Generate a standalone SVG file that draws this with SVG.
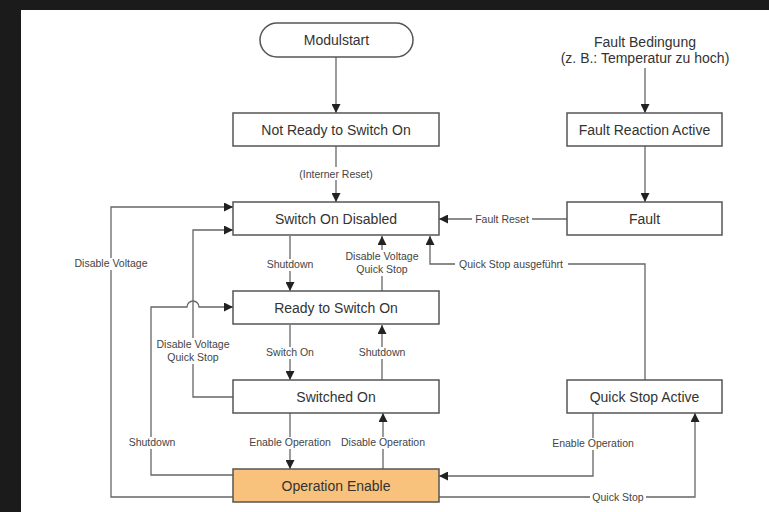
<svg xmlns="http://www.w3.org/2000/svg" width="769" height="512" viewBox="0 0 769 512">
<style>
.node{fill:#fff;stroke:#555;stroke-width:1.5}
.nt{font-family:"Liberation Sans",Arial,sans-serif;font-size:14px;fill:#333;text-anchor:middle}
.lbl{font-family:"Liberation Sans",Arial,sans-serif;font-size:10.5px;fill:#444;text-anchor:middle}
.bg{fill:#fff}
.c{fill:none;stroke:#666;stroke-width:1.3}
</style>
<defs>
<marker id="ar" viewBox="0 0 10 10" refX="10" refY="5" markerWidth="9" markerHeight="9" markerUnits="userSpaceOnUse" orient="auto">
<path d="M0,0 L10,5 L0,10 z" fill="#222"/>
</marker>
</defs>
<rect x="0" y="0" width="769" height="512" fill="#1b1b1b"/>
<rect x="21" y="10" width="748" height="502" fill="#fff"/>

<g id="connectors">
<path class="c" d="M336,57 V113" marker-end="url(#ar)"/>
<path class="c" d="M336,146 V202" marker-end="url(#ar)"/>
<path class="c" d="M645,68 V113" marker-end="url(#ar)"/>
<path class="c" d="M645,146 V202" marker-end="url(#ar)"/>
<path class="c" d="M567,219 H439" marker-end="url(#ar)"/>
<path class="c" d="M645,380 V264 H430 V236" marker-end="url(#ar)"/>
<path class="c" d="M290,236 V291" marker-end="url(#ar)"/>
<path class="c" d="M382,291 V236" marker-end="url(#ar)"/>
<path class="c" d="M290,325 V380" marker-end="url(#ar)"/>
<path class="c" d="M382,380 V325" marker-end="url(#ar)"/>
<path class="c" d="M290,413 V469" marker-end="url(#ar)"/>
<path class="c" d="M383,469 V413" marker-end="url(#ar)"/>
<path class="c" d="M233,497 H111 V207 H233" marker-end="url(#ar)"/>
<path class="c" d="M233,397 H193 V230 H233" marker-end="url(#ar)"/>
<path class="c" d="M233,475 H151 V307 H187 A6,6 0 0 1 199,307 H233" marker-end="url(#ar)"/>
<path class="c" d="M593,413 V476 H439" marker-end="url(#ar)"/>
<path class="c" d="M439,497 H695 V413" marker-end="url(#ar)"/>

<rect class="bg" x="299" y="167" width="74" height="13"/>
<rect class="bg" x="472" y="213" width="60" height="12"/>
<rect class="bg" x="455" y="258" width="113" height="12"/>
<rect class="bg" x="266" y="259" width="48" height="12"/>
<rect class="bg" x="345" y="250" width="74" height="26"/>
<rect class="bg" x="265" y="347" width="50" height="12"/>
<rect class="bg" x="357" y="347" width="50" height="12"/>
<rect class="bg" x="155" y="338" width="76" height="26"/>
<rect class="bg" x="73" y="258" width="76" height="12"/>
<rect class="bg" x="127" y="437" width="50" height="12"/>
<rect class="bg" x="247" y="437" width="86" height="12"/>
<rect class="bg" x="339" y="437" width="88" height="12"/>
<rect class="bg" x="550" y="438" width="86" height="12"/>
<rect class="bg" x="590" y="492" width="56" height="12"/>

<text class="lbl" x="336" y="178">(Interner Reset)</text>
<text class="lbl" x="502" y="223">Fault Reset</text>
<text class="lbl" x="511" y="268">Quick Stop ausgeführt</text>
<text class="lbl" x="290" y="268">Shutdown</text>
<text class="lbl" x="382" y="260">Disable Voltage</text>
<text class="lbl" x="382" y="273">Quick Stop</text>
<text class="lbl" x="290" y="356">Switch On</text>
<text class="lbl" x="382" y="356">Shutdown</text>
<text class="lbl" x="193" y="348">Disable Voltage</text>
<text class="lbl" x="193" y="361">Quick Stop</text>
<text class="lbl" x="111" y="267">Disable Voltage</text>
<text class="lbl" x="152" y="446">Shutdown</text>
<text class="lbl" x="290" y="446">Enable Operation</text>
<text class="lbl" x="383" y="446">Disable Operation</text>
<text class="lbl" x="593" y="447">Enable Operation</text>
<text class="lbl" x="618" y="501">Quick Stop</text>
</g>

<g id="modulstart">
<rect class="node" x="260" y="23" width="153" height="34" rx="17" ry="17"/>
<text class="nt" x="336.5" y="45">Modulstart</text>
</g>
<g id="fault-condition">
<text class="nt" x="645" y="47">Fault Bedingung</text>
<text class="nt" x="645" y="63">(z. B.: Temperatur zu hoch)</text>
</g>
<g id="not-ready">
<rect class="node" x="233" y="113" width="206" height="33"/>
<text class="nt" x="336" y="134.5">Not Ready to Switch On</text>
</g>
<g id="switch-on-disabled">
<rect class="node" x="233" y="202" width="206" height="33"/>
<text class="nt" x="336" y="223.5">Switch On Disabled</text>
</g>
<g id="ready-to-switch-on">
<rect class="node" x="233" y="291" width="206" height="33"/>
<text class="nt" x="336" y="312.5">Ready to Switch On</text>
</g>
<g id="switched-on">
<rect class="node" x="233" y="380" width="206" height="33"/>
<text class="nt" x="336" y="401.5">Switched On</text>
</g>
<g id="operation-enable">
<rect class="node" x="233" y="469" width="206" height="33" style="fill:#f8c27c"/>
<text class="nt" x="336" y="490.5">Operation Enable</text>
</g>
<g id="fault-reaction-active">
<rect class="node" x="567" y="113" width="155" height="33"/>
<text class="nt" x="644.5" y="134.5">Fault Reaction Active</text>
</g>
<g id="fault">
<rect class="node" x="567" y="202" width="155" height="33"/>
<text class="nt" x="644.5" y="223.5">Fault</text>
</g>
<g id="quick-stop-active">
<rect class="node" x="567" y="380" width="155" height="33"/>
<text class="nt" x="644.5" y="401.5">Quick Stop Active</text>
</g>
</svg>
